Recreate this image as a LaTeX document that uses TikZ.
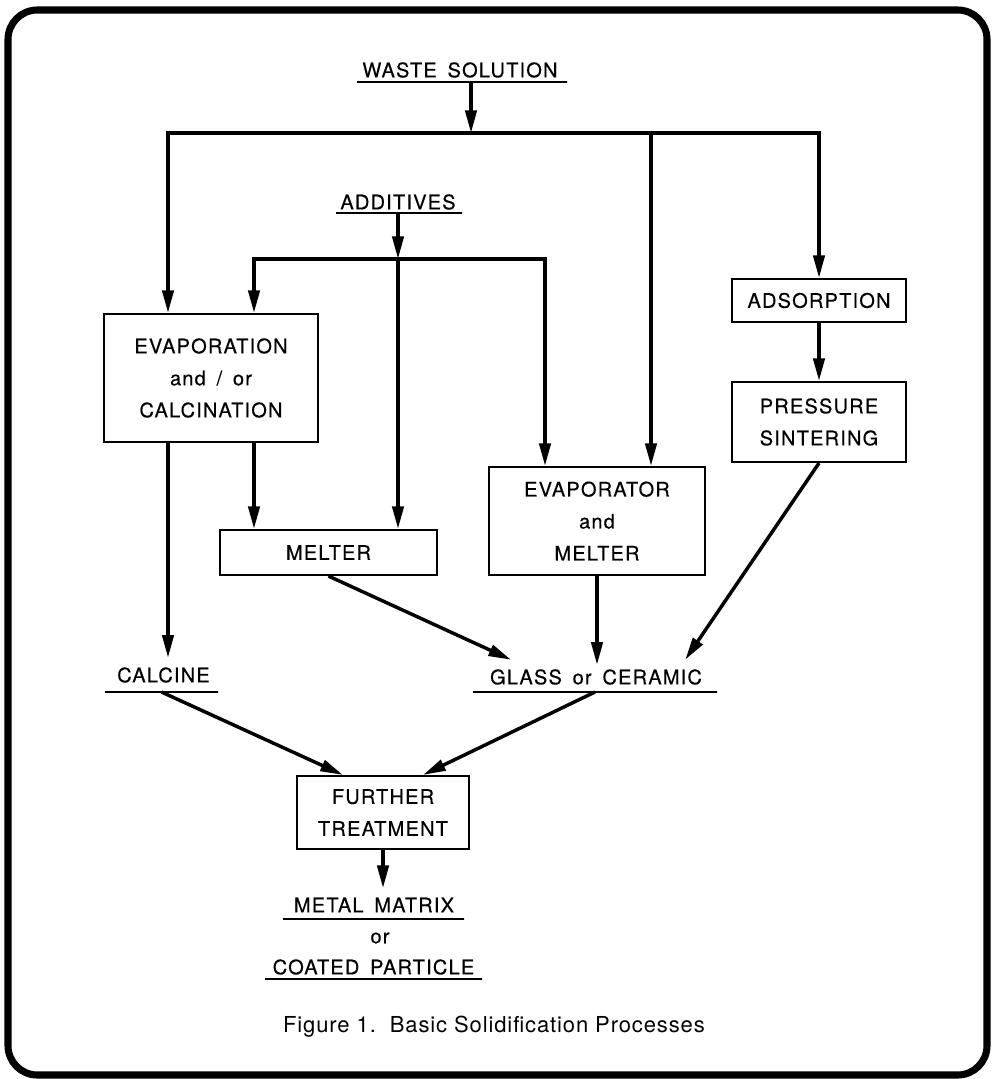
\documentclass[tikz,border=0pt]{standalone}
\usepackage{fontspec}
\setmainfont{TeX Gyre Heros}
\newfontfamily\labfont[LetterSpace=6,WordSpace=1.6,FakeBold=0.4]{TeX Gyre Heros}
\newfontfamily\capfont[LetterSpace=4]{TeX Gyre Heros}
\usetikzlibrary{arrows.meta,calc}
\newdimen\pxu \pxu=0.75pt
\begin{document}
\begin{tikzpicture}[x=0.75pt,y=-0.75pt,
  lab/.style={font=\labfont\fontsize{15}{24}\selectfont, inner xsep=0pt, inner ysep=7pt, align=center},
  box/.style={font=\labfont\fontsize{15}{24}\selectfont, align=center, draw, line width=1.6pt, inner sep=0pt},
  ul/.style={draw, line width=2.2pt, inner sep=0pt, outer sep=0pt, minimum height=0pt},
  conn/.style={line width=2.6pt},
  arr/.style={conn, -{Triangle[length=17pt,width=8.5pt]}},
  arrs/.style={conn, {Triangle[length=17pt,width=8.5pt]}-{Triangle[length=17pt,width=8.5pt]}}]
\useasboundingbox (0,0) rectangle (993,1079);
% frame
\draw[line width=5.3pt, rounded corners=22pt] (8,10) rectangle (987,1075);

% labels
\node[lab] (ws) at (460,70) {WASTE SOLUTION};
\node[ul, minimum width=210\pxu] (wsl) at (462,82) {};
\node[lab] (add) at (398,202) {ADDITIVES};
\node[ul, minimum width=126\pxu] (addl) at (399,213) {};
\node[lab] (calc) at (163.5,675) {CALCINE};
\node[ul, minimum width=113\pxu] (calcl) at (161.5,692) {};
\node[lab] (glass) at (596,677) {GLASS or CERAMIC};
\node[ul, minimum width=244\pxu] (glassl) at (595,692) {};
\node[lab] (metal) at (374,905) {METAL MATRIX};
\node[ul, minimum width=181\pxu] (metall) at (373.5,919) {};
\node[lab] (or) at (380,938) {or};
\node[lab] (coat) at (373.5,967) {COATED PARTICLE};
\node[ul, minimum width=217\pxu] (coatl) at (373.5,979) {};

% boxes
\node[box, minimum width=214\pxu, minimum height=128\pxu] (evap) at (211,378) {EVAPORATION\\and / or\\CALCINATION};
\node[box, minimum width=217\pxu, minimum height=45\pxu] (melter) at (328.5,552.5) {MELTER};
\node[box, minimum width=216\pxu, minimum height=108\pxu] (evapm) at (597,521) {EVAPORATOR\\and\\MELTER};
\node[box, minimum width=174\pxu, minimum height=43\pxu] (adsorp) at (819,300.5) {ADSORPTION};
\node[box, minimum width=174\pxu, minimum height=80\pxu] (press) at (819,422) {PRESSURE\\SINTERING};
\node[box, minimum width=172\pxu, minimum height=73\pxu] (further) at (383,812.5) {FURTHER\\TREATMENT};

% caption
\node[font=\capfont\fontsize{16.5}{19}\selectfont] (cap) at (494,1027) {Figure 1.\ \ Basic Solidification Processes};

% junctions
\coordinate (j1) at (471,133);
\coordinate (b1L) at (168,133);
\coordinate (b1M) at (651,133);
\coordinate (b1R) at (adsorp.north |- j1);
\coordinate (j2) at (398,259);
\coordinate (b2L) at (254,259);
\coordinate (b2R) at (545,259);

% connectors
\draw[arr] (j1 |- wsl) -- (j1);
\draw[arrs] (b1L |- evap.north) -- (b1L) -- (b1R) -- (adsorp.north);
\draw[arr] (b1M) -- (b1M |- evapm.north);
\draw[arr] (j2 |- addl) -- (j2);
\draw[arrs] (b2L |- evap.north) -- (b2L) -- (b2R) -- (b2R |- evapm.north);
\draw[arr] (j2) -- (j2 |- melter.north);
\draw[arr] (adsorp.south) -- (press.north);
\draw[arr] (b1L |- evap.south) -- (b1L |- calc.north);
\draw[arr] (b2L |- evap.south) -- (b2L |- melter.north);
\draw[arr] (melter.south) -- ($(glass.north west)!0.1!(glass.north east)$);
\draw[arr, shorten >=-5\pxu] (evapm.south) -- (evapm.south |- glass.north);
\draw[arr] (press.south) -- ($(glass.north west)!0.92!(glass.north east)$);
\draw[arr] (calcl) -- ($(further.north west)!0.27!(further.north east)$);
\draw[arr] (glassl) -- ($(further.north west)!0.73!(further.north east)$);
\draw[arr] (further.south) -- (further.south |- metal.north);
\end{tikzpicture}
\end{document}
